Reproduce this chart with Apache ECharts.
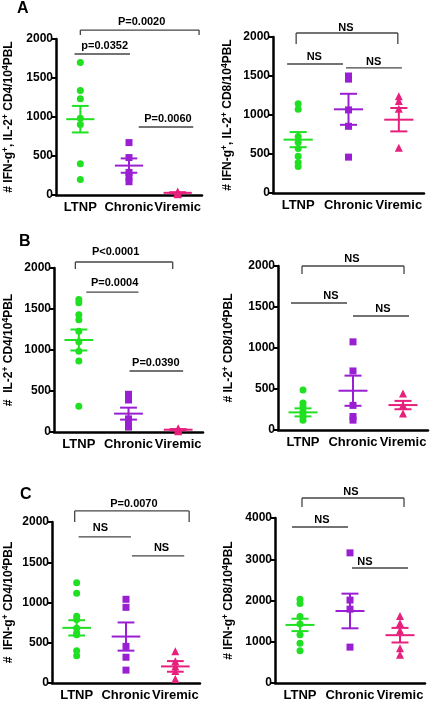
<!DOCTYPE html>
<html><head><meta charset="utf-8">
<script src="https://cdn.jsdelivr.net/npm/echarts@6/dist/echarts.min.js"></script>
<style>html,body{margin:0;padding:0;background:#fff}#c{width:430px;height:705px}</style>
</head><body><div id="c"></div>
<script>
// ---------------- DATA ----------------
const categories = ['LTNP', 'Chronic', 'Viremic'];
const panelLetters = ['A', 'B', 'C'];

// Panel A left: IFN-g+, IL-2+ CD4
const aCD4_LTNP    = [1700, 1340, 1235, 985, 905, 400, 200];
const aCD4_Chronic = [672, 480, 290, 230, 170];
const aCD4_Viremic = [45, 30, 20, 15, 10];
const aCD4_mean    = [972, 377, 28];
const aCD4_sem     = [170, 92, 8];
const aCD4_pLabels = ['P=0.0020', 'p=0.0352', 'P=0.0060'];

// Panel A right: IFN-g+, IL-2+ CD8
const aCD8_LTNP    = [1145, 1075, 725, 650, 570, 470, 390, 340];
const aCD8_Chronic = [1500, 1460, 1065, 855, 460];
const aCD8_Viremic = [1240, 1180, 1080, 580];
const aCD8_mean    = [684, 1073, 940];
const aCD8_sem     = [97, 199, 150];
const aCD8_pLabels = ['NS', 'NS', 'NS'];

// Panel B left: IL-2+ CD4
const bCD4_LTNP    = [1615, 1575, 1430, 1370, 1230, 1100, 985, 865, 315];
const bCD4_Chronic = [460, 390, 160, 110, 60];
const bCD4_Viremic = [45, 30, 20, 10];
const bCD4_mean    = [1122, 224, 28];
const bCD4_sem     = [128, 73, 8];
const bCD4_pLabels = ['P<0.0001', 'P=0.0004', 'P=0.0390'];

// Panel B right: IL-2+ CD8
const bCD8_LTNP    = [487, 330, 290, 225, 200, 160, 120];
const bCD8_Chronic = [1075, 720, 300, 165, 120];
const bCD8_Viremic = [446, 305, 200];
const bCD8_mean    = [215, 479, 304];
const bCD8_sem     = [49, 184, 51];
const bCD8_pLabels = ['NS', 'NS', 'NS'];

// Panel C left: IFN-g+ CD4
const cCD4_LTNP    = [1245, 1115, 830, 790, 680, 620, 600, 400, 340];
const cCD4_Chronic = [1040, 940, 455, 320, 160];
const cCD4_Viremic = [395, 270, 205, 150, 50];
const cCD4_mean    = [685, 577, 206];
const cCD4_sem     = [95, 175, 66];
const cCD4_pLabels = ['P=0.0070', 'NS', 'NS'];

// Panel C right: IFN-g+ CD8
const cCD8_LTNP    = [2030, 1930, 1610, 1430, 1170, 965, 780];
const cCD8_Chronic = [3155, 2010, 1790, 870];
const cCD8_Viremic = [1625, 1450, 1270, 845, 685];
const cCD8_mean    = [1408, 1746, 1159];
const cCD8_sem     = [150, 420, 177];
const cCD8_pLabels = ['NS', 'NS', 'NS'];

// y-axis tick maxima / intervals
const yMaxes    = [2000, 2000, 2000, 2000, 2000, 4000];
const yIntervals = [500, 500, 500, 500, 500, 1000];

// y-axis titles (rich text, s = superscript)
const yNames = [
  '# IFN-g{s|+}, IL-2{s|+} CD4/10{s|4}PBL',
  '# IFN-g{s|+}, IL-2{s|+} CD8/10{s|4}PBL',
  '#  IL-2{s|+} CD4/10{s|4}PBL',
  '# IL-2{s|+} CD8/10{s|4}PBL',
  '#  IFN-g{s|+} CD4/10{s|4}PBL',
  '# IFN-g{s|+} CD8/10{s|4}PBL'
];

// ---------------- LAYOUT (positions / styles) ----------------
const FONT = "'Liberation Sans', Arial, sans-serif";
const groupColors = ['#20e022', '#9a1fd2', '#e6207c'];
const groupSymbols = ['circle', 'rect', 'triangle'];
const groupSymbolSizes = [7, 7, 8];

const grids = [
  {left: 52,  top: 39,  width: 150, height: 156, nameGap: 40},
  {left: 273, top: 37,  width: 151, height: 156, nameGap: 38},
  {left: 51,  top: 268, width: 152, height: 164, nameGap: 38},
  {left: 278, top: 266, width: 150, height: 164, nameGap: 42},
  {left: 50,  top: 522, width: 150, height: 161, nameGap: 36},
  {left: 275, top: 518, width: 150, height: 165, nameGap: 39}
];

// annotation geometry in data units: [x1, x2, y, yDrop(or null), textX, textY]
const annotGeom = [
  [[0.0, 2.44, 2115, 2051, 1.26, 2218], [-0.12, 1.02, 1808, null, 0.5, 1910], [1.2, 2.32, 872, null, 1.8, 974]],
  [[-0.04, 1.98, 2051, 1910, 0.95, 2115], [-0.22, 0.89, 1654, null, 0.32, 1744], [0.95, 2.06, 1603, null, 1.5, 1679]],
  [[-0.07, 1.89, 2073, 1988, 0.74, 2195], [0.15, 1.2, 1707, null, 0.72, 1817], [1.02, 2.1, 744, null, 1.55, 841]],
  [[-0.02, 2.02, 2000, 1902, 0.98, 2085], [-0.24, 0.88, 1549, null, 0.56, 1634], [1.0, 2.12, 1390, null, 1.6, 1476]],
  [[-0.04, 2.28, 2137, 2000, 1.16, 2224], [0.04, 1.1, 1814, null, 0.48, 1925], [1.12, 2.18, 1578, null, 1.72, 1677]],
  [[0.04, 2.08, 4485, 4267, 1.02, 4630], [-0.16, 0.96, 3782, null, 0.44, 3952], [1.04, 2.16, 2788, null, 1.3, 2933]]
];

const panels = [
  {groups: [aCD4_LTNP, aCD4_Chronic, aCD4_Viremic], mean: aCD4_mean, sem: aCD4_sem, labels: aCD4_pLabels},
  {groups: [aCD8_LTNP, aCD8_Chronic, aCD8_Viremic], mean: aCD8_mean, sem: aCD8_sem, labels: aCD8_pLabels},
  {groups: [bCD4_LTNP, bCD4_Chronic, bCD4_Viremic], mean: bCD4_mean, sem: bCD4_sem, labels: bCD4_pLabels},
  {groups: [bCD8_LTNP, bCD8_Chronic, bCD8_Viremic], mean: bCD8_mean, sem: bCD8_sem, labels: bCD8_pLabels},
  {groups: [cCD4_LTNP, cCD4_Chronic, cCD4_Viremic], mean: cCD4_mean, sem: cCD4_sem, labels: cCD4_pLabels},
  {groups: [cCD8_LTNP, cCD8_Chronic, cCD8_Viremic], mean: cCD8_mean, sem: cCD8_sem, labels: cCD8_pLabels}
];

// ---------------- BUILD ----------------
const option = {
  animation: false,
  backgroundColor: '#fff',
  title: [
    {text: panelLetters[0], left: 17, top: 1},
    {text: panelLetters[1], left: 19, top: 234},
    {text: panelLetters[2], left: 20, top: 487}
  ].map(t => Object.assign(t, {textStyle: {fontFamily: FONT, fontWeight: 'bold', fontSize: 16, color: '#000'}, padding: 0})),
  grid: [], xAxis: [], yAxis: [], series: []
};

panels.forEach((p, i) => {
  const g = grids[i];
  option.grid.push({left: g.left, top: g.top, width: g.width, height: g.height});
  // visible category axis
  option.xAxis.push({
    type: 'category', gridIndex: i, data: categories, boundaryGap: true,
    axisLine: {show: true, onZero: false, lineStyle: {color: '#000', width: 2.5}},
    axisTick: {alignWithLabel: true, length: 4, lineStyle: {color: '#000', width: 2}},
    axisLabel: {fontFamily: FONT, fontWeight: 'bold', fontSize: 13, color: '#000', margin: 6, interval: 0}
  });
  // hidden value axis aligned with category bands
  option.xAxis.push({
    type: 'value', gridIndex: i, min: -0.5, max: 2.5, show: false,
    axisLine: {onZero: false}
  });
  option.yAxis.push({
    type: 'value', gridIndex: i, min: 0, max: yMaxes[i], interval: yIntervals[i],
    splitLine: {show: false},
    axisLine: {show: true, onZero: false, lineStyle: {color: '#000', width: 2.5}},
    axisTick: {show: true, length: 4, lineStyle: {color: '#000', width: 2}},
    axisLabel: {fontFamily: FONT, fontWeight: 'bold', fontSize: 12, color: '#000', margin: 3,
      formatter: v => String(v)},
    name: yNames[i], nameLocation: 'middle', nameRotate: 90, nameGap: g.nameGap,
    nameTextStyle: {
      fontFamily: FONT, fontWeight: 'bold', fontSize: 12, color: '#000', lineHeight: 15,
      rich: {s: {fontFamily: FONT, fontWeight: 'bold', fontSize: 8.5, color: '#000', verticalAlign: 'top', lineHeight: 8}}
    }
  });
  const catAxis = 2 * i, valAxis = 2 * i + 1;
  // scatter points
  p.groups.forEach((vals, gi) => {
    option.series.push({
      type: 'scatter', xAxisIndex: catAxis, yAxisIndex: i,
      symbol: groupSymbols[gi], symbolSize: groupSymbolSizes[gi],
      itemStyle: {color: groupColors[gi], opacity: 1},
      data: vals.map(v => [gi, v]), clip: false, z: 3
    });
  });
  // mean +/- SEM
  option.series.push({
    type: 'custom', xAxisIndex: valAxis, yAxisIndex: i, z: 4,
    data: p.mean.map((m, gi) => [gi, m, p.sem[gi]]),
    renderItem: (params, api) => {
      const x = api.value(0), m = api.value(1), s = api.value(2);
      const pc = api.coord([x, m]), pt = api.coord([x, m + s]), pb = api.coord([x, m - s]);
      const band = api.size([1, 0])[0];
      const hw = band * 0.29, sw = band * 0.17;
      const st = {stroke: groupColors[params.dataIndex], lineWidth: 2};
      return {type: 'group', children: [
        {type: 'line', shape: {x1: pc[0] - hw, y1: pc[1], x2: pc[0] + hw, y2: pc[1]}, style: st},
        {type: 'line', shape: {x1: pt[0] - sw, y1: pt[1], x2: pt[0] + sw, y2: pt[1]}, style: st},
        {type: 'line', shape: {x1: pb[0] - sw, y1: pb[1], x2: pb[0] + sw, y2: pb[1]}, style: st},
        {type: 'line', shape: {x1: pt[0], y1: pt[1], x2: pb[0], y2: pb[1]}, style: st}
      ]};
    }
  });
  // significance annotations
  option.series.push({
    type: 'custom', xAxisIndex: valAxis, yAxisIndex: i, z: 5, clip: false,
    data: annotGeom[i].map(a => [a[0], a[2], a[1], a[3] == null ? a[2] : a[3], a[4], a[5]]),
    renderItem: (params, api) => {
      const x1 = api.value(0), y = api.value(1), x2 = api.value(2), yd = api.value(3), tx = api.value(4), ty = api.value(5);
      const a = api.coord([x1, y]), b = api.coord([x2, y]);
      const ad = api.coord([x1, yd]), bd = api.coord([x2, yd]);
      const t = api.coord([tx, ty]);
      const st = {stroke: '#444', lineWidth: 1.3};
      const children = [
        {type: 'line', shape: {x1: a[0], y1: a[1], x2: b[0], y2: b[1]}, style: st}
      ];
      if (yd !== y) {
        children.push({type: 'line', shape: {x1: a[0], y1: a[1], x2: ad[0], y2: ad[1]}, style: st});
        children.push({type: 'line', shape: {x1: b[0], y1: b[1], x2: bd[0], y2: bd[1]}, style: st});
      }
      children.push({type: 'text', style: {
        text: p.labels[params.dataIndex], x: t[0], y: t[1], align: 'center', verticalAlign: 'middle',
        fontFamily: FONT, fontWeight: 'bold', fontSize: 11, fill: '#000'
      }});
      return {type: 'group', children};
    }
  });
});

const chart = echarts.init(document.getElementById('c'), null, {renderer: 'canvas'});
chart.setOption(option);
</script>
</body></html>
